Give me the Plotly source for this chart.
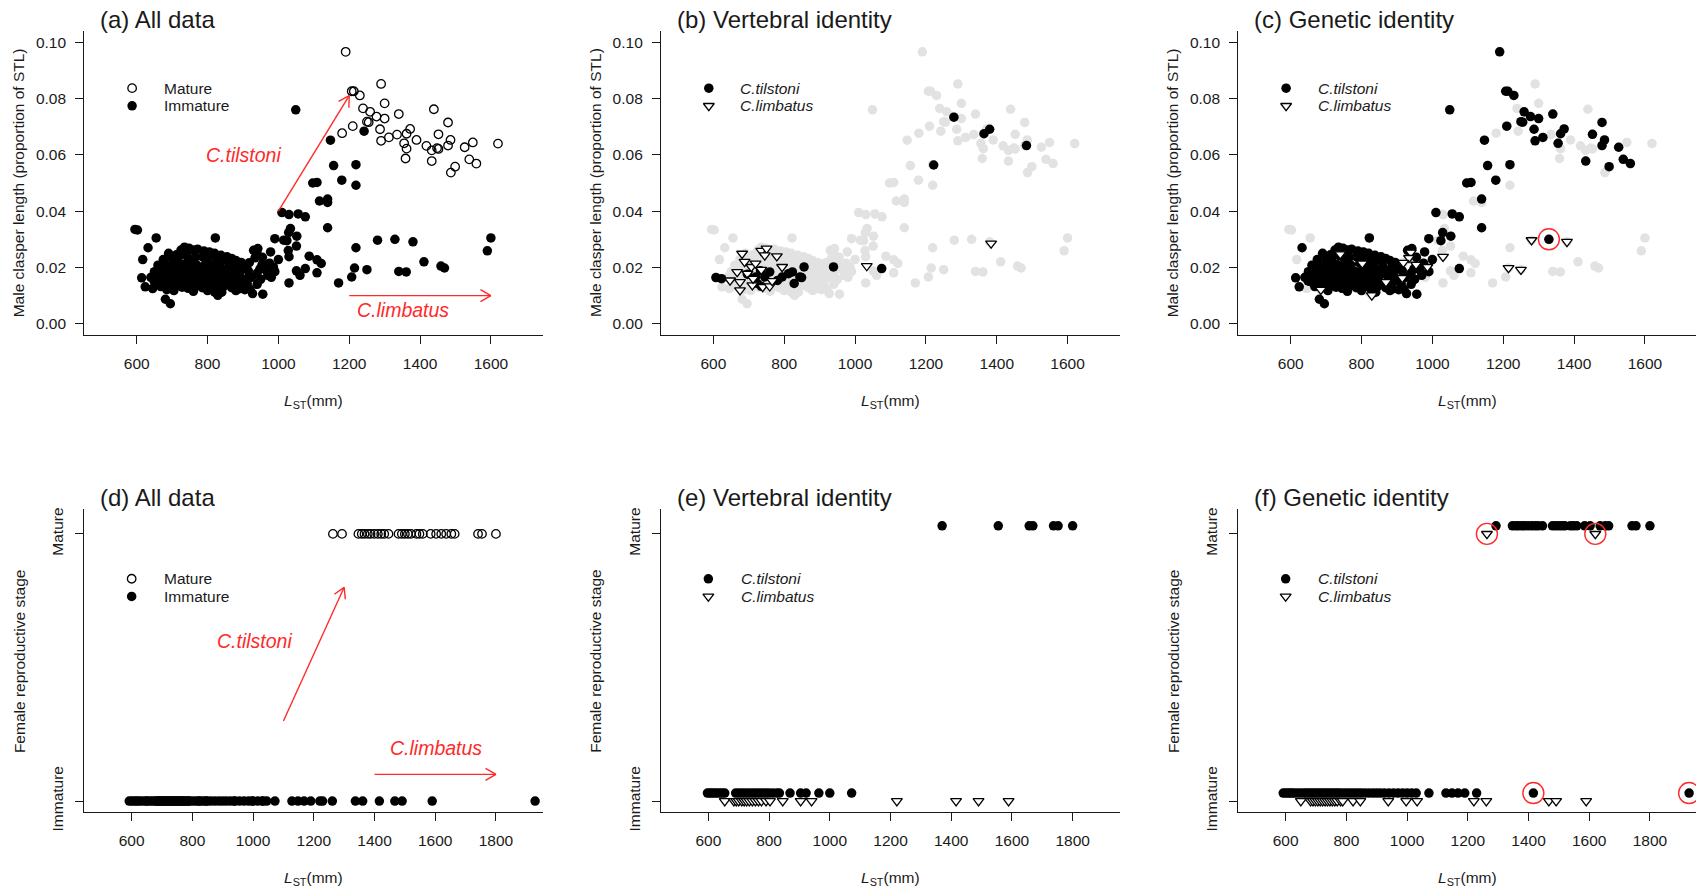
import math
import plotly.graph_objects as go

# ---------------------------------------------------------------------------
# Male clasper length (proportion of STL) against stretched total length LST (mm)
# ---------------------------------------------------------------------------
# mature males, genetically identified as C. tilstoni
mat_til_lst = [1190, 1207, 1213, 1230, 1259, 1277, 1300, 1340, 1250, 1255,
               1210, 1479, 1287, 1372, 1362, 1452, 1312, 1290, 1486, 1355,
               1479, 1526, 1433, 1499, 1539, 1559]
mat_til_cl = [0.0966, 0.0826, 0.0826, 0.0811, 0.0753, 0.0736, 0.0729, 0.0745, 0.0718, 0.0716,
              0.0702, 0.0715, 0.0691, 0.0692, 0.0675, 0.0673, 0.0662, 0.0650, 0.0653, 0.0641,
              0.0633, 0.0627, 0.0578, 0.0558, 0.0584, 0.0569]
# mature males without a genetic identification
mat_unk_lst = [1290, 1300, 1439, 1620, 1180, 1359, 1487, 1418, 1448, 1549,
               1239, 1390, 1433, 1362, 1452, 1335]
mat_unk_cl = [0.0852, 0.0783, 0.0762, 0.0640, 0.0677, 0.0587, 0.0537, 0.0632, 0.0624, 0.0644,
              0.0765, 0.0653, 0.0616, 0.0622, 0.0621, 0.0672]

# immature males outside the main size cluster
imm_til_lst = [1049, 1147, 1156, 1219, 1179, 1097, 1109, 1139, 1139, 1010,
               1056, 1076, 1029, 1052, 990, 1024, 978, 1076, 970, 956,
               927, 905, 822, 632, 614, 624, 649, 681, 695, 1329]
imm_til_cl = [0.0760, 0.0652, 0.0562, 0.0565, 0.0510, 0.0500, 0.0502, 0.0443, 0.0341, 0.0395,
              0.0390, 0.0380, 0.0324, 0.0311, 0.0302, 0.0295, 0.0255, 0.0196, 0.0172, 0.0105,
              0.0107, 0.0121, 0.0305, 0.0270, 0.0163, 0.0131, 0.0152, 0.0087, 0.0071, 0.0300]
imm_lim_lst = [1280, 1380, 1215, 1250, 939, 934, 918, 954, 986, 915,
               869, 829, 685, 802, 740, 1030]
imm_lim_cl = [0.0297, 0.0291, 0.0198, 0.0192, 0.0253, 0.0234, 0.0217, 0.0210, 0.0202, 0.0163,
              0.0148, 0.0101, 0.0121, 0.0214, 0.0247, 0.0238]
imm_unk_lst = [1242, 1219, 1116, 1139, 1030, 1015, 1051, 1028, 1087, 1109,
               1121, 1109, 1051, 1061, 1030, 1170, 1207, 1219, 1340, 1361,
               1411, 1459, 1469, 1590, 1600, 595, 602, 655, 617, 1034]
imm_unk_cl = [0.0684, 0.0492, 0.0436, 0.0431, 0.0388, 0.0297, 0.0276, 0.0260, 0.0240, 0.0227,
              0.0214, 0.0181, 0.0188, 0.0172, 0.0145, 0.0145, 0.0166, 0.0270, 0.0186, 0.0184,
              0.0220, 0.0205, 0.0198, 0.0259, 0.0305, 0.0335, 0.0333, 0.0305, 0.0228, 0.0338]

# immature males in the dense 640-1000 mm cluster
core_til_lst = [690, 712, 725, 735, 748, 760, 772, 790, 805, 820, 838, 855, 868,
                675, 700, 718, 742, 765, 785, 802, 826, 848, 880, 895,
                660, 680, 697, 712, 730, 752, 770, 795, 815, 835, 860, 885, 905, 948, 975,
                650, 672, 690, 708, 725, 745, 762, 780, 800, 822, 842, 865, 890, 915, 940, 965, 990,
                640, 662, 683, 702, 720, 738, 755, 775, 795, 812, 832, 852, 875, 898, 925, 950,
                655, 675, 695, 715, 732, 750, 768, 788, 808, 828, 848, 870, 890, 912, 940,
                668, 690, 708, 728, 745, 765, 785, 805, 825, 845, 868, 888, 920,
                705, 760, 800, 840, 880, 930, 942, 955, 1000]
core_til_cl = [0.0250, 0.0245, 0.0262, 0.0272, 0.0268, 0.0262, 0.0265, 0.0258, 0.0255, 0.0250, 0.0243, 0.0238, 0.0232,
               0.0228, 0.0232, 0.0236, 0.0240, 0.0236, 0.0238, 0.0232, 0.0235, 0.0228, 0.0225, 0.0218,
               0.0208, 0.0212, 0.0205, 0.0215, 0.0210, 0.0214, 0.0208, 0.0215, 0.0210, 0.0212, 0.0205, 0.0200, 0.0195, 0.0195, 0.0215,
               0.0185, 0.0190, 0.0192, 0.0188, 0.0195, 0.0190, 0.0193, 0.0186, 0.0192, 0.0188, 0.0192, 0.0185, 0.0182, 0.0188, 0.0180, 0.0190, 0.0185,
               0.0165, 0.0170, 0.0168, 0.0172, 0.0166, 0.0174, 0.0168, 0.0172, 0.0166, 0.0170, 0.0165, 0.0172, 0.0168, 0.0160, 0.0165, 0.0158,
               0.0150, 0.0148, 0.0152, 0.0146, 0.0152, 0.0147, 0.0153, 0.0145, 0.0150, 0.0146, 0.0152, 0.0145, 0.0150, 0.0142, 0.0140,
               0.0132, 0.0128, 0.0135, 0.0130, 0.0126, 0.0133, 0.0128, 0.0130, 0.0125, 0.0132, 0.0128, 0.0124, 0.0122,
               0.0118, 0.0115, 0.0118, 0.0112, 0.0118, 0.0261, 0.0267, 0.0236, 0.0228]
core_lim_lst = [708, 740, 771, 690, 735, 760, 790, 815, 745, 700]
core_lim_cl = [0.0137, 0.0131, 0.0143, 0.0178, 0.0205, 0.0182, 0.0202, 0.0158, 0.0225, 0.0160]
core_unk_lst = [760, 820, 905, 980, 870, 645]
core_unk_cl = [0.0118, 0.0112, 0.0140, 0.0165, 0.0200, 0.0125]

# males with vertebral-count identification
vert_til_lst = [607, 623, 696, 719, 733, 745, 759, 781, 794, 812, 823, 828, 844, 849, 856,
                724, 735, 939, 1075, 1222, 1279, 1364, 1380, 1484]
vert_til_cl = [0.0164, 0.0160, 0.0176, 0.0166, 0.0188, 0.0166, 0.0184, 0.0154, 0.0166, 0.0178,
               0.0184, 0.0143, 0.0166, 0.0164, 0.0202, 0.0143, 0.0133, 0.0202, 0.0196, 0.0564,
               0.0734, 0.0675, 0.0691, 0.0633]
vert_lim_lst = [681, 647, 675, 675, 688, 696, 707, 719, 735, 735, 750, 745, 779, 794,
                739, 759, 766, 710, 667, 712, 1033, 1384]
vert_lim_cl = [0.0249, 0.0154, 0.0119, 0.0148, 0.0220, 0.0178, 0.0202, 0.0214, 0.0192, 0.0259,
               0.0267, 0.0243, 0.0240, 0.0202, 0.0131, 0.0133, 0.0152, 0.0137, 0.0184, 0.0160,
               0.0205, 0.0285]

# male whose genetic and morphological assignments disagree
male_flag_lst = [1329]
male_flag_cl = [0.0300]

# ---------------------------------------------------------------------------
# Female reproductive stage against LST (mm)
# ---------------------------------------------------------------------------
fem_mat_til = [1293, 1347, 1358, 1367, 1378, 1387, 1399, 1411, 1422, 1432, 1446, 1479, 1490,
               1500, 1510, 1520, 1538, 1548, 1559, 1585, 1603, 1636, 1653, 1664, 1741, 1754, 1800]
fem_mat_lim = [1263, 1620]
fem_imm_til = [592, 600, 608, 615, 622, 630, 640, 650, 660, 668, 676, 684, 692, 700, 708, 716,
               724, 732, 740, 748, 756, 764, 772, 780, 790, 800, 810, 820, 830, 840, 850, 862,
               875, 888, 900, 912, 925, 940, 955, 970, 985, 1000, 1015, 1030, 1072, 1128, 1148,
               1168, 1190, 1229, 1416, 1929]
fem_imm_lim = [650, 682, 690, 698, 706, 714, 722, 730, 738, 746, 754, 762, 770, 781, 788, 822,
               846, 938, 997, 1033, 1220, 1261, 1467, 1491, 1590]
fem_imm_unk = [1045, 1337, 1361]

fem_vert_til_mat = [1370, 1555, 1657, 1669, 1737, 1752, 1800]
fem_vert_til_imm = [597, 605, 612, 620, 628, 637, 645, 654, 690, 700, 710, 720, 730, 740, 750,
                    760, 770, 780, 790, 800, 812, 825, 834, 869, 904, 922, 964, 1000, 1072]
fem_vert_lim_imm = [654, 684, 692, 700, 710, 718, 726, 735, 745, 755, 765, 775, 790, 803, 845,
                    904, 940, 1221, 1416, 1490, 1589]

fem_flag_lim_mat = [1263, 1620]
fem_flag_til_imm = [1416, 1929]

stage_labels = ["Immature", "Mature"]
male_ticks = [0.00, 0.02, 0.04, 0.06, 0.08, 0.10]
male_x_ticks = [600, 800, 1000, 1200, 1400, 1600]
fem_x_ticks = [600, 800, 1000, 1200, 1400, 1600, 1800]
panel_titles = ["(a) All data", "(b) Vertebral identity", "(c) Genetic identity",
                "(d) All data", "(e) Vertebral identity", "(f) Genetic identity"]

# ---------------------------------------------------------------------------
# Page geometry (pixels) and axis ranges
# ---------------------------------------------------------------------------
W, H = 1696, 892
COL_LEFT = [84.3, 661.0, 1238.3]
PLOT_W = 459.0
ROW_TOP = [31.0, 509.3]
PLOT_H = [304.0, 303.0]
XR = [(452.0, 1748.0), (444.0, 1956.0)]
YR = [(-0.004, 0.104), (-0.042, 1.092)]
SPECIES_LIFT = 0.03      # C. tilstoni drawn slightly above the stage line

FONT = "Liberation Sans, Arial, Helvetica, sans-serif"
INK = "#1a1a1a"
RED = "#ff2a2a"
GREY = "#e2e2e2"

panels = []
for i in range(6):
    row, col = divmod(i, 3)
    left = COL_LEFT[col]
    right = min(left + PLOT_W, W)
    xr0, xr1 = XR[row]
    xr1 = xr0 + (xr1 - xr0) * (right - left) / PLOT_W
    top = ROW_TOP[row]
    panels.append(dict(left=left, right=right, top=top, bottom=top + PLOT_H[row],
                       xr=(xr0, xr1), yr=YR[row], row=row))


def axis_ids(i):
    return ("x", "y") if i == 0 else (f"x{i + 1}", f"y{i + 1}")


def to_px(p, x, y):
    px = p["left"] + (x - p["xr"][0]) / (p["xr"][1] - p["xr"][0]) * (p["right"] - p["left"])
    py = p["bottom"] - (y - p["yr"][0]) / (p["yr"][1] - p["yr"][0]) * (p["bottom"] - p["top"])
    return px, py


def to_data(p, px, py):
    x = p["xr"][0] + (px - p["left"]) / (p["right"] - p["left"]) * (p["xr"][1] - p["xr"][0])
    y = p["yr"][0] + (p["bottom"] - py) / (p["bottom"] - p["top"]) * (p["yr"][1] - p["yr"][0])
    return x, y


fig = go.Figure()

FILLED = dict(symbol="circle", size=9.5, color="black", line=dict(width=0))
OPEN = dict(symbol="circle-open", size=8.5, color="black", line=dict(width=1.3))
TRI = dict(symbol="triangle-down-open", size=9.5, color="black", line=dict(color="black", width=1.3))
TRI_W = dict(symbol="triangle-down", size=9.5, color="white", line=dict(color="black", width=1.3))
GREYDOT = dict(symbol="circle", size=9.5, color=GREY, line=dict(width=0))
RING = dict(symbol="circle-open", size=21, color=RED, line=dict(width=1.4))


def add_pts(i, xs, ys, marker):
    xa, ya = axis_ids(i)
    fig.add_trace(go.Scatter(x=list(xs), y=list(ys), mode="markers", marker=marker,
                             xaxis=xa, yaxis=ya, hoverinfo="skip", showlegend=False,
                             cliponaxis=False))


def add_arrow(i, x0, y0, x1, y1, head=12.0):
    p = panels[i]
    ax0, ay0 = to_px(p, x0, y0)
    ax1, ay1 = to_px(p, x1, y1)
    ang = math.atan2(ay0 - ay1, ax0 - ax1)
    xs, ys = [x0, x1, None], [y0, y1, None]
    for d in (math.radians(30), -math.radians(30)):
        hx, hy = ax1 + head * math.cos(ang + d), ay1 + head * math.sin(ang + d)
        dx, dy = to_data(p, hx, hy)
        xs += [x1, dx, None]
        ys += [y1, dy, None]
    xa, ya = axis_ids(i)
    fig.add_trace(go.Scatter(x=xs, y=ys, mode="lines", line=dict(color=RED, width=1.4),
                             xaxis=xa, yaxis=ya, hoverinfo="skip", showlegend=False))


# combined male groups
male_mature_x = mat_til_lst + mat_unk_lst
male_mature_y = mat_til_cl + mat_unk_cl
male_imm_x = imm_til_lst + imm_lim_lst + imm_unk_lst + core_til_lst + core_lim_lst + core_unk_lst
male_imm_y = imm_til_cl + imm_lim_cl + imm_unk_cl + core_til_cl + core_lim_cl + core_unk_cl
male_all_x = male_imm_x + male_mature_x
male_all_y = male_imm_y + male_mature_y
gen_til_x = imm_til_lst + core_til_lst + mat_til_lst
gen_til_y = imm_til_cl + core_til_cl + mat_til_cl

# (a) all males by maturity
add_pts(0, male_imm_x, male_imm_y, FILLED)
add_pts(0, male_mature_x, male_mature_y, OPEN)
# (b) vertebral identity over all males
add_pts(1, male_all_x, male_all_y, GREYDOT)
add_pts(1, vert_til_lst, vert_til_cl, FILLED)
add_pts(1, vert_lim_lst, vert_lim_cl, TRI_W)
# (c) genetic identity over all males
add_pts(2, male_all_x, male_all_y, GREYDOT)
add_pts(2, gen_til_x, gen_til_y, FILLED)
add_pts(2, core_lim_lst, core_lim_cl, TRI)
add_pts(2, imm_lim_lst, imm_lim_cl, TRI_W)
add_pts(2, male_flag_lst, male_flag_cl, RING)

# (d) all females by stage
fem_mat_all = fem_mat_til + fem_mat_lim
fem_imm_all = fem_imm_til + fem_imm_lim + fem_imm_unk
add_pts(3, fem_imm_all, [0] * len(fem_imm_all), FILLED)
add_pts(3, fem_mat_all, [1] * len(fem_mat_all), OPEN)
# (e) vertebral identity
add_pts(4, fem_vert_til_imm, [0 + SPECIES_LIFT] * len(fem_vert_til_imm), FILLED)
add_pts(4, fem_vert_til_mat, [1 + SPECIES_LIFT] * len(fem_vert_til_mat), FILLED)
add_pts(4, fem_vert_lim_imm, [0] * len(fem_vert_lim_imm), TRI_W)
# (f) genetic identity
add_pts(5, fem_imm_til, [0 + SPECIES_LIFT] * len(fem_imm_til), FILLED)
add_pts(5, fem_mat_til, [1 + SPECIES_LIFT] * len(fem_mat_til), FILLED)
add_pts(5, fem_imm_lim, [0] * len(fem_imm_lim), TRI_W)
add_pts(5, fem_mat_lim, [1] * len(fem_mat_lim), TRI_W)
add_pts(5, fem_flag_lim_mat, [1] * len(fem_flag_lim_mat), RING)
add_pts(5, fem_flag_til_imm, [0 + SPECIES_LIFT] * len(fem_flag_til_imm), RING)

# red species arrows
add_arrow(0, 1000, 0.040, 1200, 0.081)
add_arrow(0, 1200, 0.010, 1600, 0.010)
add_arrow(3, 1100, 0.30, 1300, 0.80)
add_arrow(3, 1400, 0.10, 1800, 0.10)

annotations = []


def note(i, x, y, text, size=15.5, color=INK, xanchor="left", italic=False):
    xa, ya = axis_ids(i)
    annotations.append(dict(x=x, y=y, xref=xa, yref=ya, text=f"<i>{text}</i>" if italic else text,
                            showarrow=False, xanchor=xanchor, yanchor="middle",
                            font=dict(family=FONT, size=size, color=color)))


note(0, 902, 0.060, "C.tilstoni", size=19.5, color=RED, xanchor="center", italic=True)
note(0, 1351, 0.005, "C.limbatus", size=19.5, color=RED, xanchor="center", italic=True)
note(3, 1003, 0.598, "C.tilstoni", size=19.5, color=RED, xanchor="center", italic=True)
note(3, 1603, 0.197, "C.limbatus", size=19.5, color=RED, xanchor="center", italic=True)

# in-panel legends
LEG = [dict(sx=587, tx=670, y1=0.0837, y2=0.0774), dict(sx=600, tx=700, y1=0.832, y2=0.766)]
for i in range(6):
    g = LEG[panels[i]["row"]]
    if i in (0, 3):
        add_pts(i, [g["sx"]], [g["y1"]], OPEN)
        add_pts(i, [g["sx"]], [g["y2"]], FILLED)
        note(i, g["tx"], g["y1"], "Mature")
        note(i, g["tx"], g["y2"], "Immature")
    else:
        add_pts(i, [g["sx"]], [g["y1"]], FILLED)
        add_pts(i, [g["sx"]], [g["y2"]], TRI_W)
        note(i, g["tx"], g["y1"], "C.tilstoni", italic=True)
        note(i, g["tx"], g["y2"], "C.limbatus", italic=True)

# panel titles and axis titles
for i, p in enumerate(panels):
    title_y = 19.5 if p["row"] == 0 else 497.5
    annotations.append(dict(x=(p["left"] + 14) / W, y=1 - title_y / H, xref="paper", yref="paper",
                            text=panel_titles[i], showarrow=False, xanchor="left", yanchor="middle",
                            font=dict(family=FONT, size=24, color=INK)))
    xt_y = 401 if p["row"] == 0 else 878
    annotations.append(dict(x=(COL_LEFT[i % 3] + PLOT_W / 2) / W, y=1 - xt_y / H,
                            xref="paper", yref="paper", text="<i>L</i><sub>ST</sub>(mm)",
                            showarrow=False, xanchor="center", yanchor="middle",
                            font=dict(family=FONT, size=15.5, color=INK)))
    ytitle = "Male clasper length (proportion of STL)" if p["row"] == 0 else "Female reproductive stage"
    annotations.append(dict(x=(p["left"] - 65) / W, y=1 - (p["top"] + p["bottom"]) / 2 / H,
                            xref="paper", yref="paper", text=ytitle, textangle=-90,
                            showarrow=False, xanchor="center", yanchor="middle",
                            font=dict(family=FONT, size=15.5, color=INK)))

layout = dict(template="none", autosize=False, width=W, height=H,
              margin=dict(l=0, r=0, t=0, b=0, pad=0, autoexpand=False),
              paper_bgcolor="white", plot_bgcolor="white", showlegend=False,
              annotations=annotations, font=dict(family=FONT, size=15.5, color=INK))

axis_common = dict(showline=True, linecolor=INK, linewidth=1.3, ticks="outside", ticklen=8,
                   tickwidth=1.3, tickcolor=INK, showgrid=False, zeroline=False, automargin=False,
                   tickfont=dict(family=FONT, size=15.5, color=INK), fixedrange=True)

for i, p in enumerate(panels):
    xa, ya = axis_ids(i)
    xkey = "xaxis" if i == 0 else f"xaxis{i + 1}"
    ykey = "yaxis" if i == 0 else f"yaxis{i + 1}"
    xticks = male_x_ticks if p["row"] == 0 else fem_x_ticks
    layout[xkey] = dict(axis_common, domain=[p["left"] / W, p["right"] / W], range=list(p["xr"]),
                        anchor=ya, tickvals=xticks, ticktext=[str(v) for v in xticks],
                        ticklabelstandoff=6)
    if p["row"] == 0:
        layout[ykey] = dict(axis_common, domain=[1 - p["bottom"] / H, 1 - p["top"] / H],
                            range=list(p["yr"]), anchor=xa, tickvals=male_ticks,
                            ticktext=[f"{v:.2f}" for v in male_ticks], ticklabelstandoff=6)
    else:
        layout[ykey] = dict(axis_common, domain=[1 - p["bottom"] / H, 1 - p["top"] / H],
                            range=list(p["yr"]), anchor=xa, tickvals=[0, 1],
                            ticktext=stage_labels, tickangle=-90, ticklabelstandoff=6)

fig.update_layout(**layout)
fig.write_html("out.html", config={"responsive": False})
